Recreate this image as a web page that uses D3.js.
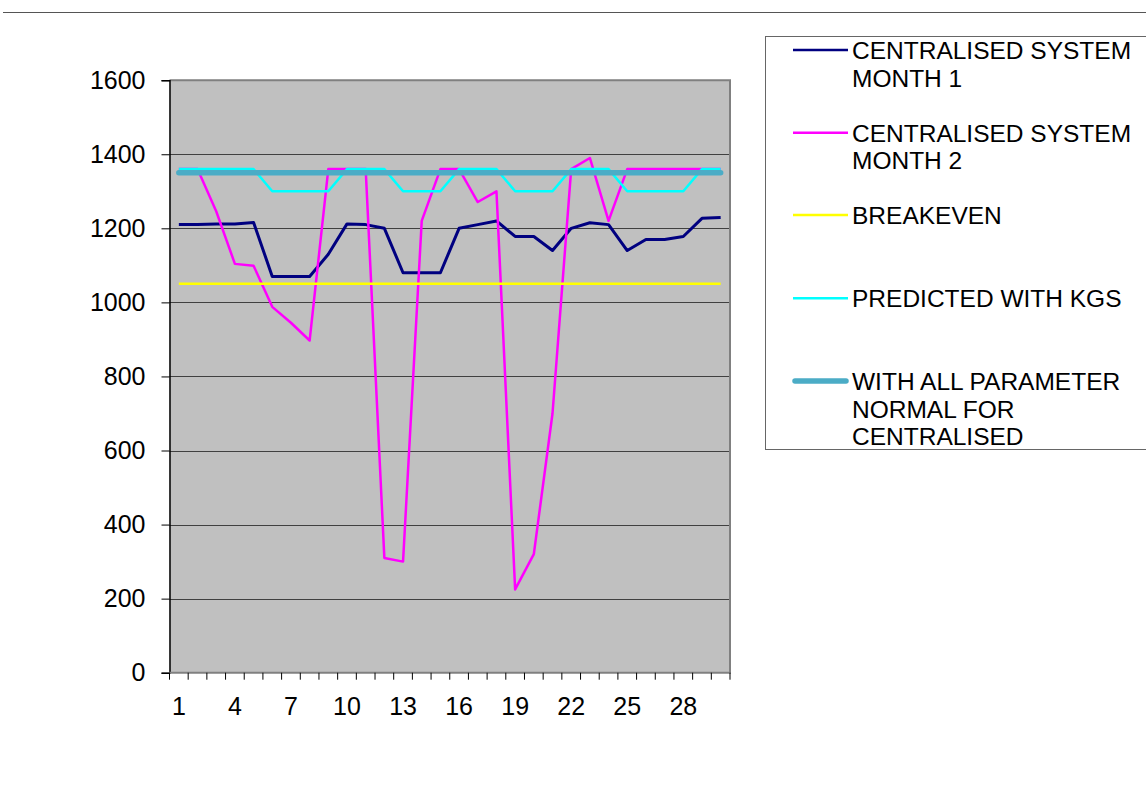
<!DOCTYPE html>
<html>
<head>
<meta charset="utf-8">
<script src="https://cdn.jsdelivr.net/npm/d3@7"></script>
<style>
  body { margin: 0; background: #fff; }
  svg { display: block; font-family: 'Liberation Sans', Arial, sans-serif; }
</style>
</head>
<body>
<div id="chart"></div>
<script>
// day numbers on the category axis
const days = [1, 2, 3, 4, 5, 6, 7, 8, 9, 10, 11, 12, 13, 14, 15, 16, 17, 18, 19, 20, 21, 22, 23, 24, 25, 26, 27, 28, 29, 30];
const tickDays = [1, 4, 7, 10, 13, 16, 19, 22, 25, 28];
const yTicks = [0, 200, 400, 600, 800, 1000, 1200, 1400, 1600];

const month1 = [1210, 1210, 1212, 1212, 1216, 1070, 1070, 1070, 1130, 1212, 1210, 1200, 1080, 1080, 1080, 1200, 1210, 1220, 1178, 1178, 1140, 1200, 1215, 1210, 1140, 1170, 1170, 1178, 1227, 1229];
const month2 = [1360, 1360, 1246, 1104, 1099, 988, 945, 897, 1360, 1360, 1360, 310, 300, 1220, 1360, 1360, 1271, 1300, 225, 320, 700, 1360, 1390, 1220, 1360, 1360, 1360, 1360, 1360, 1360];
const breakeven = [1050, 1050, 1050, 1050, 1050, 1050, 1050, 1050, 1050, 1050, 1050, 1050, 1050, 1050, 1050, 1050, 1050, 1050, 1050, 1050, 1050, 1050, 1050, 1050, 1050, 1050, 1050, 1050, 1050, 1050];
const predictedKgs = [1360, 1360, 1360, 1360, 1360, 1300, 1300, 1300, 1300, 1360, 1360, 1360, 1300, 1300, 1300, 1360, 1360, 1360, 1300, 1300, 1300, 1360, 1360, 1360, 1300, 1300, 1300, 1300, 1360, 1360];
const allNormal = [1350, 1350, 1350, 1350, 1350, 1350, 1350, 1350, 1350, 1350, 1350, 1350, 1350, 1350, 1350, 1350, 1350, 1350, 1350, 1350, 1350, 1350, 1350, 1350, 1350, 1350, 1350, 1350, 1350, 1350];

const seriesNames = [
  ['CENTRALISED SYSTEM', 'MONTH 1'],
  ['CENTRALISED SYSTEM', 'MONTH 2'],
  ['BREAKEVEN'],
  ['PREDICTED WITH KGS'],
  ['WITH ALL PARAMETER', 'NORMAL FOR', 'CENTRALISED']
];

const series = [
  { name: seriesNames[0], values: month1, color: '#000080', width: 3 },
  { name: seriesNames[1], values: month2, color: '#ff00ff', width: 2.5 },
  { name: seriesNames[2], values: breakeven, color: '#ffff00', width: 2.5 },
  { name: seriesNames[3], values: predictedKgs, color: '#00ffff', width: 2.5 },
  { name: seriesNames[4], values: allNormal, color: '#4bacc6', width: 5.5 }
];

const W = 1146, H = 786;
const plot = { left: 169.5, right: 730, top: 80.2, bottom: 672.7 };

const svg = d3.select('#chart').append('svg')
  .attr('width', W)
  .attr('height', H);

// thin rule along the top of the page
svg.append('line')
  .attr('x1', 3).attr('x2', W)
  .attr('y1', 12.5).attr('y2', 12.5)
  .attr('stroke', '#555').attr('stroke-width', 1);

const x = d3.scaleBand().domain(days).range([plot.left, plot.right]).padding(0);
const y = d3.scaleLinear().domain([0, 1600]).range([plot.bottom, plot.top]);

// plot area
svg.append('rect')
  .attr('x', plot.left).attr('y', plot.top)
  .attr('width', plot.right - plot.left)
  .attr('height', plot.bottom - plot.top)
  .attr('fill', '#c0c0c0');

// gridlines
svg.append('g')
  .selectAll('line')
  .data(yTicks.filter(d => d > 0 && d < 1600))
  .join('line')
  .attr('x1', plot.left).attr('x2', plot.right)
  .attr('y1', d => Math.round(y(d)) + 0.5).attr('y2', d => Math.round(y(d)) + 0.5)
  .attr('stroke', '#404040').attr('stroke-width', 1);

// top and right borders
svg.append('path')
  .attr('d', `M${plot.left},${plot.top} H${plot.right} V${plot.bottom}`)
  .attr('fill', 'none')
  .attr('stroke', '#808080').attr('stroke-width', 2);

// y axis
const yAxis = svg.append('g')
  .attr('transform', `translate(${plot.left},0)`)
  .call(d3.axisLeft(y).tickValues(yTicks).tickSize(8).tickPadding(16).tickFormat(d3.format('d')));
yAxis.select('.domain').attr('stroke', '#000').attr('stroke-width', 1.5);
yAxis.selectAll('.tick line').attr('stroke', '#000');
yAxis.selectAll('.tick text')
  .attr('font-size', 25)
  .attr('font-family', "'Liberation Sans', Arial, sans-serif")
  .attr('fill', '#000');

// x axis: ticks between categories, labels every third day
const xAxis = svg.append('g')
  .attr('transform', `translate(0,${plot.bottom})`);
xAxis.append('line')
  .attr('x1', plot.left).attr('x2', plot.right + 1)
  .attr('y1', 0).attr('y2', 0)
  .attr('stroke', '#808080').attr('stroke-width', 2);
xAxis.selectAll('line.tk')
  .data(days.map(d => x(d)).concat([plot.right]))
  .join('line')
  .attr('class', 'tk')
  .attr('x1', d => d).attr('x2', d => d)
  .attr('y1', 0).attr('y2', 7)
  .attr('stroke', '#000').attr('stroke-width', 1);
xAxis.selectAll('text')
  .data(tickDays)
  .join('text')
  .attr('x', d => x(d) + x.bandwidth() / 2)
  .attr('y', 42)
  .attr('text-anchor', 'middle')
  .attr('font-size', 25)
  .attr('fill', '#000')
  .text(d => d);

// lines
const line = d3.line()
  .x((d, i) => x(days[i]) + x.bandwidth() / 2)
  .y(d => y(d));

series.forEach(s => {
  svg.append('path')
    .attr('d', line(s.values))
    .attr('fill', 'none')
    .attr('stroke', s.color)
    .attr('stroke-width', s.width)
    .attr('stroke-linejoin', 'round')
    .attr('stroke-linecap', s.width > 3 ? 'round' : 'butt');
});

// legend
const legend = svg.append('g');
legend.append('rect')
  .attr('x', 765.5).attr('y', 36.5)
  .attr('width', 400).attr('height', 413)
  .attr('fill', '#fff')
  .attr('stroke', '#666').attr('stroke-width', 1);

const rowY = [50, 132.7, 215, 298.3, 381];
series.forEach((s, i) => {
  const g = legend.append('g').attr('transform', `translate(0,${rowY[i]})`);
  g.append('line')
    .attr('x1', s.width > 3 ? 795 : 793).attr('x2', s.width > 3 ? 846 : 848)
    .attr('y1', 0).attr('y2', 0)
    .attr('stroke', s.color)
    .attr('stroke-width', s.width > 3 ? 5.5 : 2.5)
    .attr('stroke-linecap', s.width > 3 ? 'round' : 'butt');
  g.selectAll('text')
    .data(s.name)
    .join('text')
    .attr('x', 852)
    .attr('y', (d, j) => j * 27.7)
    .attr('dy', '0.36em')
    .attr('font-size', 24.5)
    .attr('fill', '#000')
    .text(d => d);
});
</script>
</body>
</html>
